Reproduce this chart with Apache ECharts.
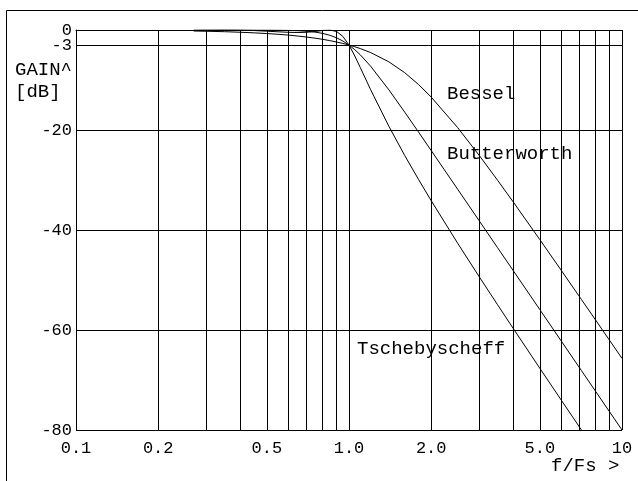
<!DOCTYPE html>
<html>
<head>
<meta charset="utf-8">
<script src="https://cdn.jsdelivr.net/npm/echarts@6/dist/echarts.min.js"></script>
<style>
html,body{margin:0;padding:0;background:#fff;}
#chart{width:638px;height:481px;}
</style>
</head>
<body>
<div id="chart"></div>
<script>
// frequency points (f/Fs)
const freq = [0.27,0.3,0.35,0.4,0.45,0.5,0.55,0.6,0.65,0.7,0.75,0.8,0.85,0.9,0.95,1.0,1.05,1.1,1.2,1.4,1.6,1.8,2.0,2.5,3,3.5,4,5,6,7,7.1,8,9,10];
// gains in dB
const gainBessel = [-0.20,-0.25,-0.34,-0.45,-0.57,-0.71,-0.86,-1.02,-1.21,-1.41,-1.63,-1.86,-2.12,-2.40,-2.69,-3.01,-3.35,-3.71,-4.51,-6.37,-8.54,-10.93,-13.41,-19.52,-25.09,-30.04,-34.43,-41.92,-48.12,-53.40,-53.89,-57.99,-62.05,-65.68];
const gainButterworth = [0.0,0.0,-0.001,-0.003,-0.007,-0.017,-0.036,-0.072,-0.136,-0.243,-0.414,-0.674,-1.047,-1.555,-2.21,-3.01,-3.94,-4.97,-7.24,-11.97,-16.43,-20.46,-24.10,-31.84,-38.17,-43.53,-48.16,-55.92,-62.25,-67.61,-68.10,-72.25,-76.34,-80.0];
const gainTschebyscheff = [-0.07,-0.03,0.0,-0.03,-0.11,-0.24,-0.36,-0.46,-0.50,-0.45,-0.30,-0.10,0.0,-0.29,-1.29,-3.01,-5.20,-7.51,-11.93,-19.27,-25.10,-29.95,-34.13,-42.64,-49.36,-54.94,-59.73,-67.65,-74.07,-79.48,-79.98,null,null,null];

const xTickValues = [0.1,0.2,0.5,1,2,5,10];
const xTickLabels = ['0.1','0.2','0.5','1.0','2.0','5.0','10'];
const xGridValues = [0.2,0.3,0.4,0.5,0.6,0.7,0.8,0.9,2,3,4,5,6,7,8,9];
const yExtraLine = -3;
const seriesNames = ['Bessel','Butterworth','Tschebyscheff'];

const FONT = '"Liberation Mono", "DejaVu Sans Mono", monospace';
const chart = echarts.init(document.getElementById('chart'), null, {renderer:'canvas'});

function pairs(g){ return freq.map((f,i)=> g[i]===null ? [f,null] : [f,g[i]]); }

const lineCommon = {
  type:'line', showSymbol:false, symbol:'none', silent:true, animation:false,
  lineStyle:{color:'#000', width:1}, itemStyle:{color:'#000'}, z:5
};

const option = {
  animation:false,
  backgroundColor:'#fff',
  grid:{left:76, right:16, top:30, bottom:51, containLabel:false},
  xAxis:{
    type:'log', logBase:10, min:0.1, max:10,
    axisLine:{show:true, lineStyle:{color:'#000', width:1}},
    axisTick:{show:false},
    splitLine:{show:true, lineStyle:{color:'#000', width:1}},
    axisLabel:{
      customValues:xTickValues,
      margin:10, color:'#000', fontFamily:FONT, fontSize:17,
      formatter:function(v){
        for(let i=0;i<xTickValues.length;i++){ if(Math.abs(v-xTickValues[i])<1e-6) return xTickLabels[i]; }
        return '';
      }
    }
  },
  yAxis:{
    type:'value', min:-80, max:0, interval:20,
    axisLine:{show:true, lineStyle:{color:'#000', width:1}},
    axisTick:{show:false},
    splitLine:{show:true, lineStyle:{color:'#000', width:1}},
    axisLabel:{margin:4, color:'#000', fontFamily:FONT, fontSize:17}
  },
  series:[
    {
      type:'line', data:[], silent:true, z:1,
      markLine:{
        silent:true, symbol:'none', animation:false,
        emphasis:{disabled:true},
        lineStyle:{color:'#000', width:1, type:'solid'},
        label:{show:false},
        data: xGridValues.map(v=>({xAxis:v})).concat([{
          yAxis:yExtraLine,
          label:{show:true, position:'start', distance:4, formatter:String(yExtraLine), color:'#000', fontFamily:FONT, fontSize:17}
        }])
      }
    },
    Object.assign({name:seriesNames[0], data:pairs(gainBessel)}, lineCommon),
    Object.assign({name:seriesNames[1], data:pairs(gainButterworth)}, lineCommon),
    Object.assign({name:seriesNames[2], data:pairs(gainTschebyscheff), connectNulls:false}, lineCommon)
  ],
  graphic:[
    {type:'polyline', shape:{points:[[6.5,481],[6.5,10.5],[638,10.5]]}, style:{fill:null, stroke:'#000', lineWidth:1}, silent:true, z:0},
    {type:'text', left:15, top:60, style:{text:'GAIN^', font:'19px '+FONT, fill:'#000'}},
    {type:'text', left:15, top:82, style:{text:'[dB]', font:'19px '+FONT, fill:'#000'}},
    {type:'text', left:447, top:84, style:{text:seriesNames[0], font:'19px '+FONT, fill:'#000'}},
    {type:'text', left:447, top:144, style:{text:seriesNames[1], font:'19px '+FONT, fill:'#000'}},
    {type:'text', left:357, top:339, style:{text:seriesNames[2], font:'19px '+FONT, fill:'#000'}},
    {type:'text', left:551, top:456, style:{text:'f/Fs >', font:'19px '+FONT, fill:'#000'}}
  ]
};
chart.setOption(option);
</script>
</body>
</html>
